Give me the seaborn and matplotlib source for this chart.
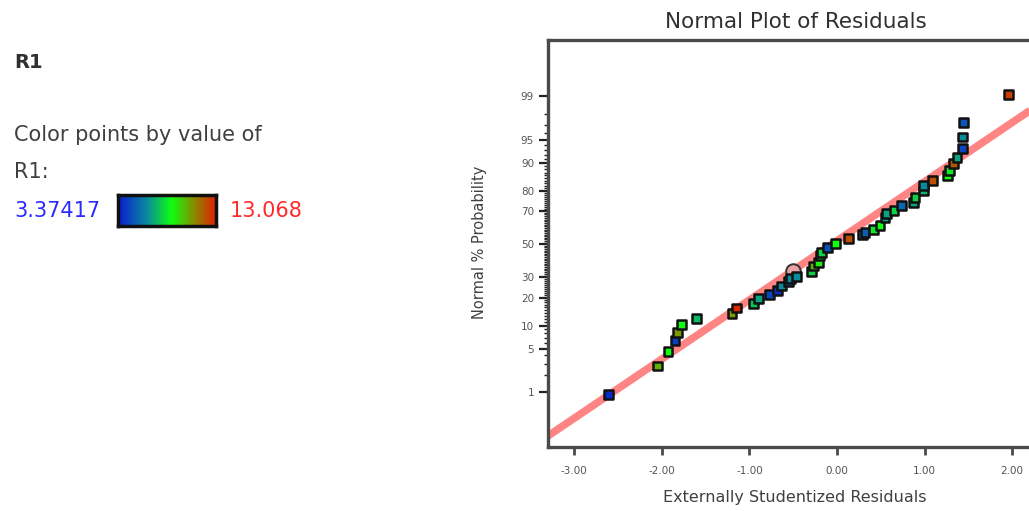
import numpy as np
import pandas as pd
import matplotlib
matplotlib.use("Agg")
import matplotlib.pyplot as plt
import seaborn as sns
from matplotlib.colors import LinearSegmentedColormap, Normalize
from matplotlib.ticker import NullFormatter, FixedLocator
from statistics import NormalDist

# ---------------- data ----------------
residuals = [-2.61, -2.05, -1.93, -1.85, -1.82, -1.78, -1.60, -1.20, -1.15, -0.955,
             -0.90, -0.77, -0.68, -0.63, -0.555, -0.53, -0.46, -0.29, -0.27, -0.21,
             -0.194, -0.175, -0.11, -0.015, 0.13, 0.293, 0.32, 0.415, 0.49, 0.548,
             0.567, 0.65, 0.74, 0.87, 0.89, 0.985, 0.985, 1.09, 1.26, 1.28,
             1.33, 1.37, 1.435, 1.435, 1.44, 1.955]
probability = [0.91, 2.76, 4.52, 6.49, 8.32, 10.33, 12.1, 13.7, 15.8, 17.5,
               19.7, 21.4, 23.3, 25.5, 27.7, 29.5, 30.7, 33.5, 36.5, 38.5,
               43.1, 44.6, 47.7, 50.4, 53.6, 56.0, 57.5, 59.1, 61.6, 66.1,
               68.3, 70.2, 72.7, 74.2, 76.7, 79.8, 82.3, 84.2, 86.1, 87.7,
               89.7, 91.4, 93.4, 95.4, 97.2, 99.07]
r1_value = [3.86, 10.16, 8.71, 4.34, 10.65, 8.71, 7.25, 10.65, 12.87, 7.45,
            6.77, 4.54, 3.86, 6.28, 5.31, 6.28, 6.28, 7.74, 10.16, 9.0,
            8.22, 7.74, 4.83, 8.71, 12.1, 6.28, 5.12, 8.22, 8.71, 6.77,
            6.77, 7.74, 5.31, 6.77, 7.74, 7.06, 6.28, 12.1, 8.71, 8.22,
            11.9, 6.77, 4.54, 6.28, 4.83, 12.39]
# highlighted point drawn as a circle
circle_residual = [-0.50]
circle_probability = [33.9]

# reference line (in normal-quantile space): z = intercept + slope * residual
line_intercept = 0.053
line_slope = 0.93
line_x = [-3.6, 2.6]

r1_min, r1_max = 3.37417, 13.068
major_probs = [1, 5, 10, 20, 30, 50, 70, 80, 90, 95, 99]
x_ticks = [-3, -2, -1, 0, 1, 2]

# ---------------- styling ----------------
sns.set_style("white")
plt.rcParams["font.family"] = ["DejaVu Sans"]

cmap = LinearSegmentedColormap.from_list(
    "de", [(0.0, "#0a1ad2"), (0.3, "#0a8c9c"), (0.55, "#10ff10"),
           (0.78, "#8a8a00"), (1.0, "#e61e00")])

nd = NormalDist()
_inv = np.vectorize(nd.inv_cdf, otypes=[float])
_cdf = np.vectorize(nd.cdf, otypes=[float])


def fwd(p):
    p = np.clip(np.asarray(p, dtype=float) / 100.0, 1e-12, 1 - 1e-12)
    return _inv(p)


def inv(z):
    return _cdf(np.asarray(z, dtype=float)) * 100.0


fig = plt.figure(figsize=(10.29, 5.11), dpi=100)
ax = fig.add_axes([548 / 1029, 1 - 447 / 511, (1046 - 548) / 1029, (447 - 40) / 511])
ax.set_yscale("function", functions=(fwd, inv))

df = pd.DataFrame({"res": residuals, "prob": probability, "R1": r1_value})

# line
line_p = [float(inv(line_intercept + line_slope * x)) for x in line_x]
sns.lineplot(x=line_x, y=line_p, ax=ax, color="#ff6f6f", alpha=0.85,
             linewidth=5.5, zorder=1, solid_capstyle="butt")

sns.scatterplot(data=df, x="res", y="prob", hue="R1", palette=cmap,
                hue_norm=(r1_min, r1_max), marker="s", s=40,
                edgecolor="#111111", linewidth=1.8, legend=False, ax=ax, zorder=3)
ax.scatter(circle_residual, circle_probability, s=110, marker="o",
           facecolor="#e9a3a3", edgecolor="#333333", linewidth=1.4, zorder=2)

ax.set_xlim(-3.30, 2.386)
ax.set_ylim(float(inv(-3.19)), float(inv(3.21)))

ax.set_xticks(x_ticks)
ax.set_xticklabels([f"{v:.2f}" for v in x_ticks])
ax.yaxis.set_major_locator(FixedLocator(major_probs))
ax.yaxis.set_minor_locator(FixedLocator([i for i in range(1, 100) if i not in major_probs]))
ax.set_yticklabels([str(v) for v in major_probs])
ax.yaxis.set_minor_formatter(NullFormatter())

for s in ax.spines.values():
    s.set_color("#4a4a4a")
    s.set_linewidth(2.4)

ax.tick_params(axis="x", which="major", direction="out", length=6, width=2,
               color="#4a4a4a", labelsize=7.5, labelcolor="#555555", pad=8, bottom=True)
ax.tick_params(axis="y", which="major", direction="out", length=6.5, width=1.6,
               color="#222222", labelsize=7.5, labelcolor="#555555", pad=3.5, left=True)
ax.tick_params(axis="y", which="minor", direction="out", length=3, width=1.0,
               color="#222222", left=True)

ax.set_xlabel("Externally Studentized Residuals", fontsize=11.5, color="#404040")
ax.set_ylabel("Normal % Probability", fontsize=10.5, color="#404040")
ax.xaxis.set_label_coords((795 - 548) / 498, (447 - 490) / 407)
ax.yaxis.set_label_coords((487 - 548) / 498, (447 - 242) / 407)

fig.text(796 / 1029, 1 - 22 / 511, "Normal Plot of Residuals", ha="center",
         va="center", fontsize=15.5, color="#303030")

# ---------------- left info panel ----------------
fig.text(14 / 1029, 1 - 62 / 511, "R1", ha="left", va="center", fontsize=14,
         fontweight="bold", color="#303030")
fig.text(14 / 1029, 1 - 135 / 511, "Color points by value of", ha="left",
         va="center", fontsize=15, color="#404040")
fig.text(14 / 1029, 1 - 172 / 511, "R1:", ha="left", va="center", fontsize=15,
         color="#404040")
fig.text(14 / 1029, 1 - 211 / 511, "3.37417", ha="left", va="center",
         fontsize=15, color="#2a2aff")
fig.text(230 / 1029, 1 - 211 / 511, "13.068", ha="left", va="center",
         fontsize=15, color="#ff2a2a")

cax = fig.add_axes([118 / 1029, 1 - 226 / 511, 98 / 1029, 31 / 511])
grad = np.linspace(r1_min, r1_max, 256).reshape(1, -1)
cax.imshow(grad, aspect="auto", cmap=cmap, norm=Normalize(r1_min, r1_max))
cax.set_xticks([])
cax.set_yticks([])
for s in cax.spines.values():
    s.set_color("#111111")
    s.set_linewidth(2.5)

fig.savefig("out.png", dpi=100)
